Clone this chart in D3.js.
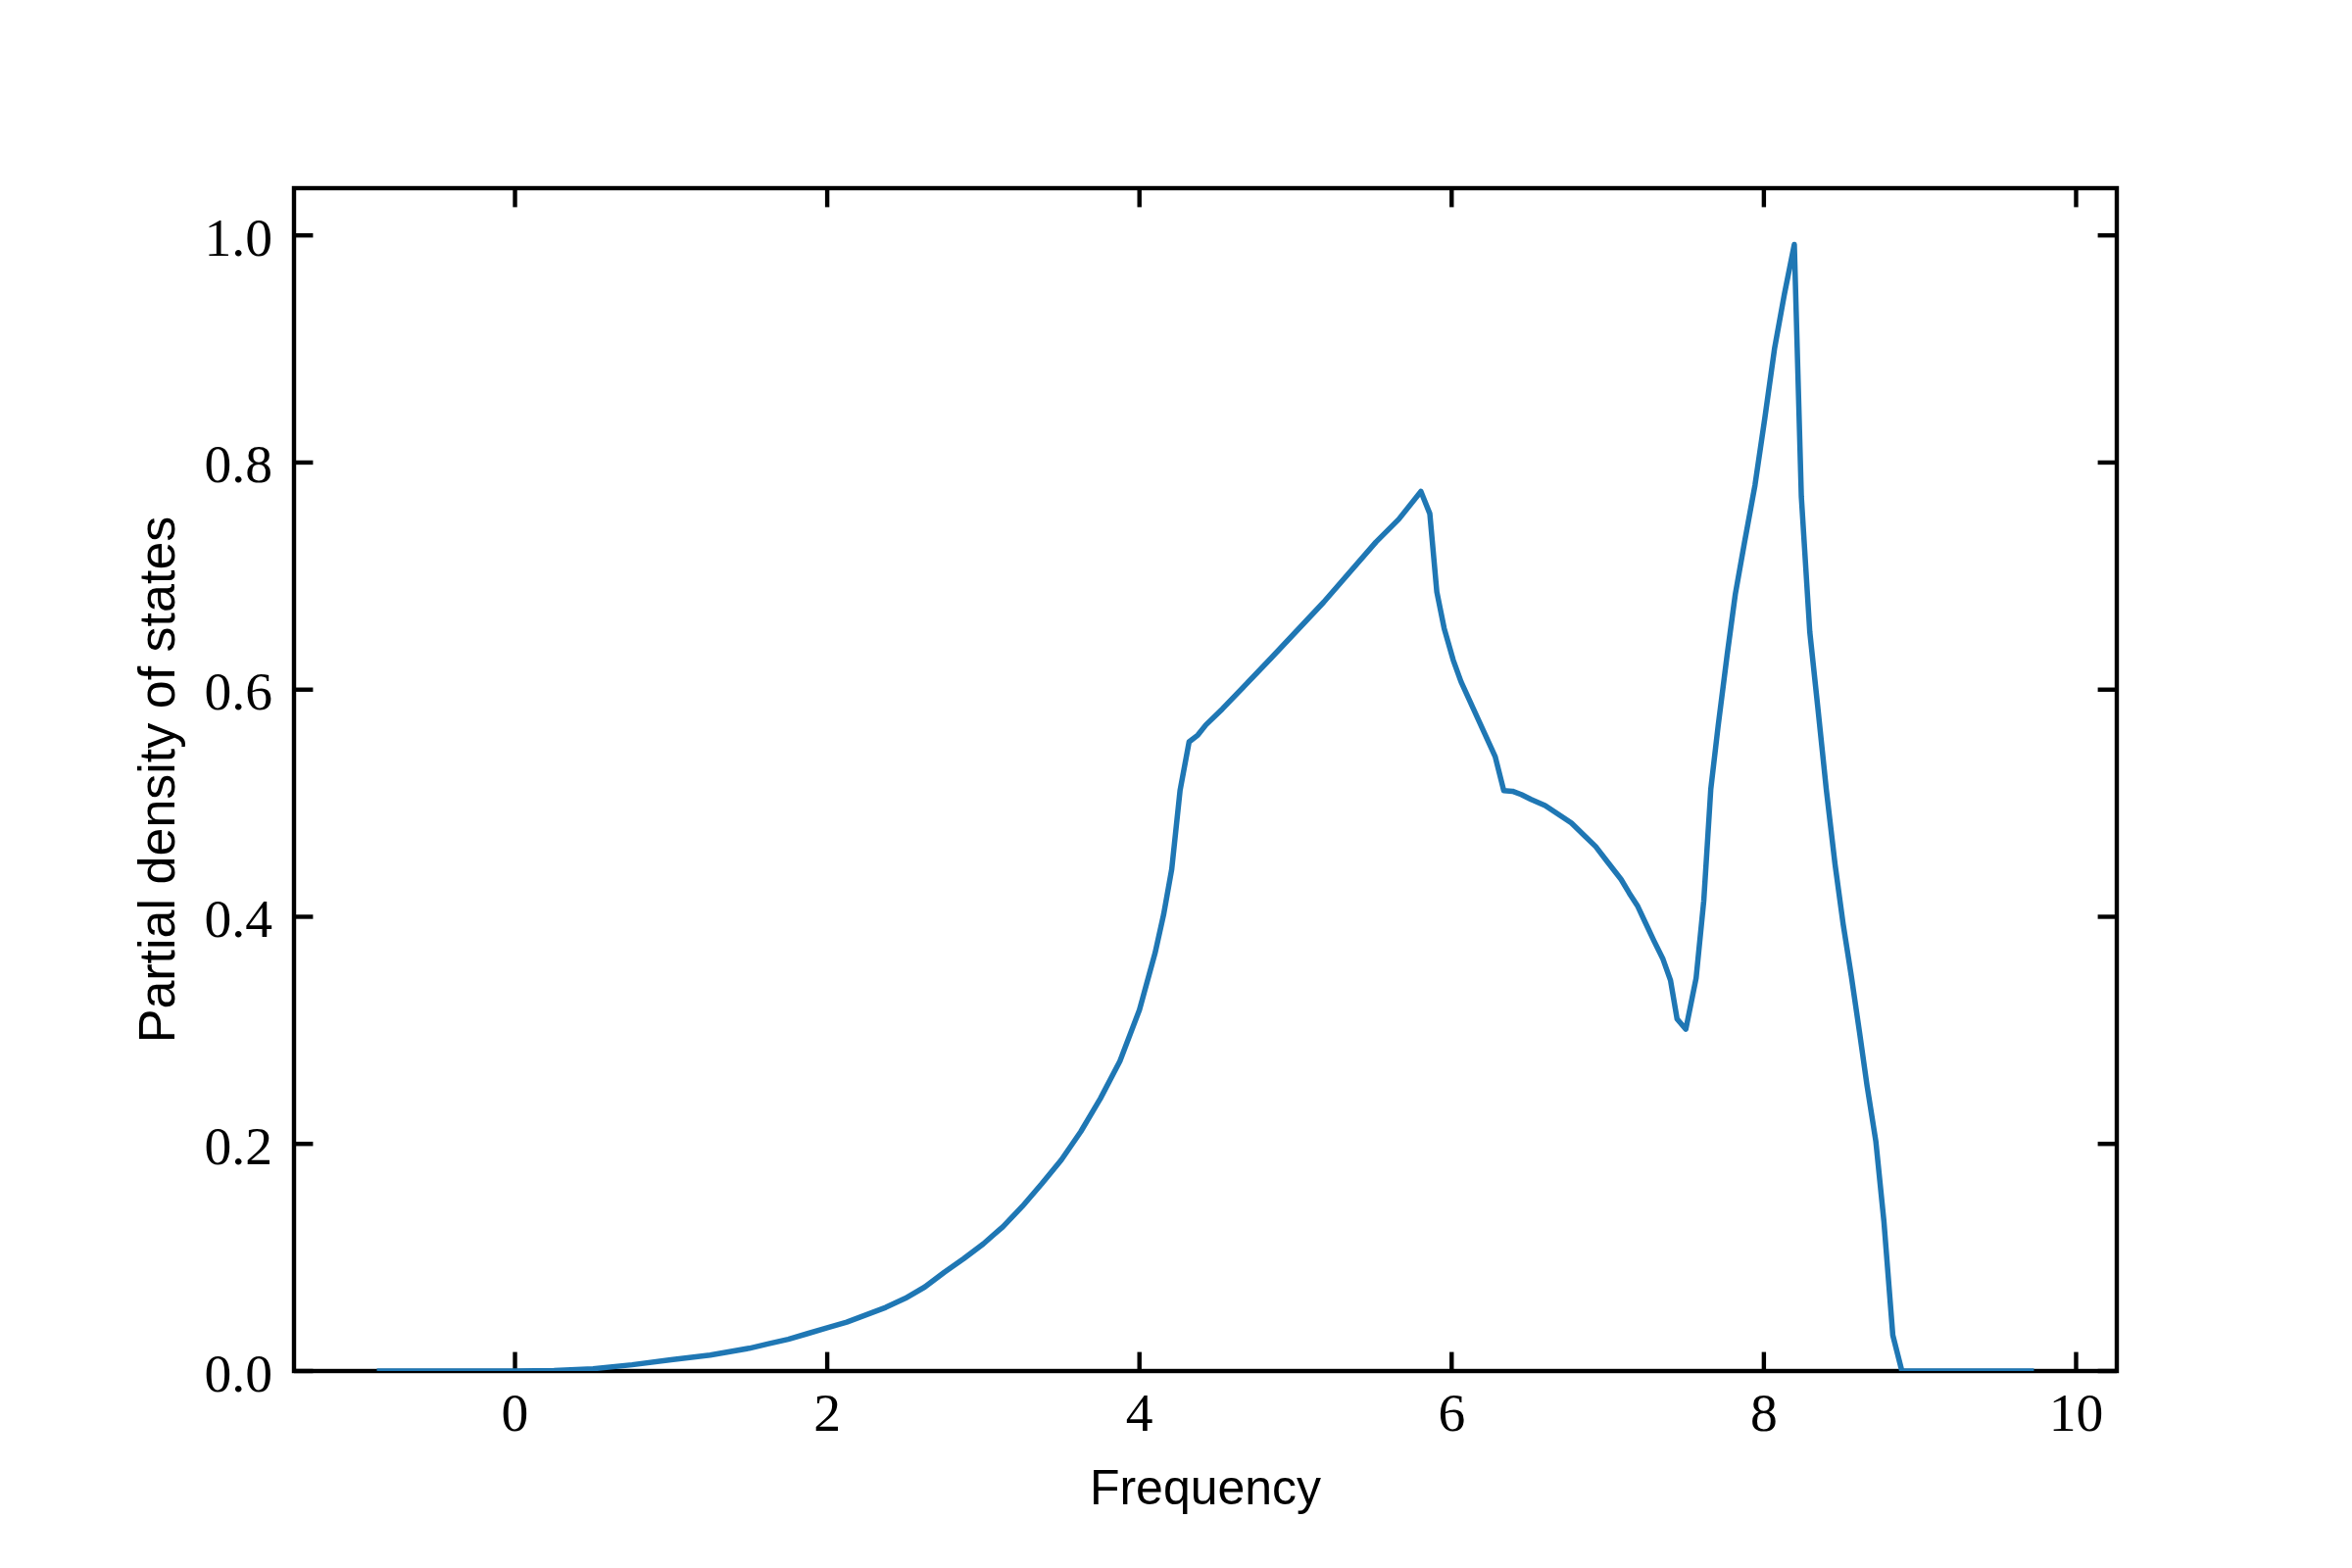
<!DOCTYPE html>
<html>
<head>
<meta charset="utf-8">
<script src="https://cdn.jsdelivr.net/npm/d3@7"></script>
<style>
  html, body { margin: 0; padding: 0; background: #ffffff; }
  svg { display: block; }
</style>
</head>
<body>
<script>
// ---- data ----
const frequency = [-0.885, 0, 0.25, 0.5, 0.75, 1.0, 1.25, 1.5, 1.625, 1.75, 1.875, 2.0, 2.125, 2.25, 2.375, 2.5, 2.625, 2.75, 2.875, 3.0, 3.125, 3.25, 3.375, 3.5, 3.625, 3.75, 3.875, 4.0, 4.1, 4.155, 4.207, 4.26, 4.318, 4.374, 4.426, 4.531, 4.845, 5.18, 5.515, 5.661, 5.803, 5.86, 5.905, 5.952, 6.01, 6.06, 6.279, 6.334, 6.39, 6.446, 6.509, 6.599, 6.708, 6.767, 6.854, 6.923, 6.997, 7.085, 7.137, 7.19, 7.241, 7.296, 7.354, 7.402, 7.444, 7.50, 7.566, 7.615, 7.66, 7.707, 7.765, 7.817, 7.875, 7.943, 8.006, 8.069, 8.131, 8.195, 8.24, 8.294, 8.345, 8.40, 8.456, 8.508, 8.56, 8.613, 8.66, 8.717, 8.769, 8.826, 8.884, 9.73];
const pdos = [0, 0, 0.0005, 0.002, 0.0055, 0.010, 0.014, 0.020, 0.024, 0.028, 0.033, 0.038, 0.043, 0.0495, 0.056, 0.064, 0.074, 0.087, 0.099, 0.112, 0.127, 0.145, 0.165, 0.186, 0.211, 0.240, 0.273, 0.318, 0.368, 0.402, 0.442, 0.511, 0.554, 0.560, 0.569, 0.583, 0.628, 0.677, 0.730, 0.750, 0.7745, 0.755, 0.686, 0.654, 0.626, 0.607, 0.541, 0.511, 0.5105, 0.5076, 0.5033, 0.498, 0.488, 0.4826, 0.471, 0.4618, 0.4485, 0.433, 0.421, 0.4098, 0.3948, 0.3787, 0.3626, 0.344, 0.310, 0.301, 0.346, 0.414, 0.5125, 0.568, 0.631, 0.684, 0.729, 0.780, 0.839, 0.901, 0.948, 0.992, 0.770, 0.651, 0.585, 0.512, 0.446, 0.3934, 0.348, 0.298, 0.252, 0.2025, 0.1317, 0.0315, 0, 0];
const xTicks = [0, 2, 4, 6, 8, 10];
const yTicks = [0.0, 0.2, 0.4, 0.6, 0.8, 1.0];
const xLabel = "Frequency";
const yLabel = "Partial density of states";

// ---- layout ----
const W = 2400, H = 1600;
const L = 300, R = 2160, T = 192, B = 1399;
const tickLen = 19.4, axisW = 4.4;

const svg = d3.select("body").append("svg").attr("width", W).attr("height", H);
svg.append("rect").attr("width", W).attr("height", H).attr("fill", "#fff");

const xmin = d3.min(frequency), xmax = d3.max(frequency);
const xm = (xmax - xmin) * 0.05;
const x = d3.scaleLinear().domain([xmin - xm, xmax + xm]).range([L, R]);
const y = d3.scaleLinear().domain([0, d3.max(pdos) * 1.05]).range([B, T]);

const serif = "'Liberation Serif', 'DejaVu Serif', serif";
const sans = "'Liberation Sans', 'DejaVu Sans', sans-serif";

// clip
svg.append("clipPath").attr("id", "clip").append("rect")
  .attr("x", L).attr("y", T).attr("width", R - L).attr("height", B - T);

// ticks (inward, all four sides)
const tg = svg.append("g").attr("stroke", "#000").attr("stroke-width", axisW);
xTicks.forEach(v => {
  const px = x(v);
  tg.append("line").attr("x1", px).attr("x2", px).attr("y1", B).attr("y2", B - tickLen);
  tg.append("line").attr("x1", px).attr("x2", px).attr("y1", T).attr("y2", T + tickLen);
});
yTicks.forEach(v => {
  const py = y(v);
  tg.append("line").attr("x1", L).attr("x2", L + tickLen).attr("y1", py).attr("y2", py);
  tg.append("line").attr("x1", R).attr("x2", R - tickLen).attr("y1", py).attr("y2", py);
});

// spines
svg.append("rect").attr("x", L).attr("y", T).attr("width", R - L).attr("height", B - T)
  .attr("fill", "none").attr("stroke", "#000").attr("stroke-width", axisW)
  .attr("stroke-linejoin", "miter");

// curve
const line = d3.line().x((d, i) => x(frequency[i])).y(d => y(d));
svg.append("path").datum(pdos)
  .attr("clip-path", "url(#clip)")
  .attr("d", line)
  .attr("fill", "none")
  .attr("stroke", "#1f77b4")
  .attr("stroke-width", 5.5)
  .attr("stroke-linejoin", "round")
  .attr("stroke-linecap", "butt");

// tick labels
const fmt = d3.format(".1f");
svg.append("g").selectAll("text").data(xTicks).join("text")
  .attr("x", d => x(d)).attr("y", 1460)
  .attr("text-anchor", "middle")
  .attr("font-family", serif).attr("font-size", 55.6)
  .attr("fill", "#000")
  .text(d => d3.format("d")(d));

svg.append("g").selectAll("text").data(yTicks).join("text")
  .attr("x", 278).attr("y", d => y(d) + 20.5)
  .attr("text-anchor", "end")
  .attr("font-family", serif).attr("font-size", 55.6)
  .attr("fill", "#000")
  .text(d => fmt(d));

// axis labels
svg.append("text")
  .attr("x", (L + R) / 2).attr("y", 1535)
  .attr("text-anchor", "middle")
  .attr("font-family", sans).attr("font-size", 50)
  .attr("fill", "#000")
  .text(xLabel);

svg.append("text")
  .attr("transform", `translate(178, ${(T + B) / 2}) rotate(-90)`)
  .attr("text-anchor", "middle")
  .attr("font-family", sans).attr("font-size", 52)
  .attr("fill", "#000")
  .text(yLabel);
</script>
</body>
</html>
